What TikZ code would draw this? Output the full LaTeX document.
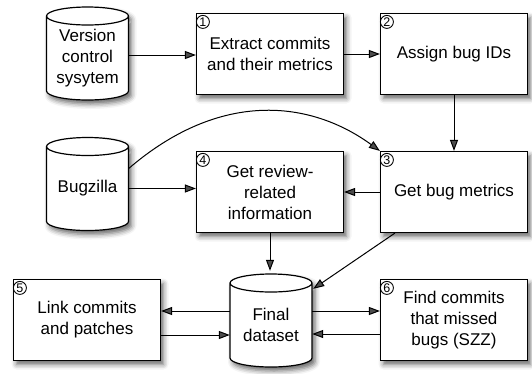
\documentclass[tikz,border=0pt]{standalone}
\usepackage{fontspec}
\setmainfont{Liberation Sans}
\usetikzlibrary{shadows.blur,arrows.meta,calc}
\tikzset{
  myshadow/.style={blur shadow={shadow xshift=3pt, shadow yshift=-4pt, shadow blur radius=5pt, shadow opacity=60}},
  stepbox/.style={draw, line width=1.2pt, fill=white, minimum width=147pt, minimum height=81pt,
    align=center, inner sep=0pt, font=\fontsize{17}{21}\selectfont, myshadow},
  cylbody/.style={minimum width=82pt, minimum height=84pt, inner sep=0pt, align=center,
    font=\fontsize{17}{21}\selectfont},
  cylline/.style={draw, line width=1.2pt, fill=white, myshadow},
  numc/.style={circle, draw, line width=0.9pt, inner sep=0pt, minimum size=13pt,
    font=\fontsize{12.5}{12.5}\selectfont},
  arr/.style={line width=1pt, -{Triangle[length=11pt,width=8pt]}},
}
\newcommand\mycyl[4]{%
  \draw[cylline] (#2-41,#3-37.5) -- (#2-41,#3+37.5)
    arc[start angle=180,end angle=360,x radius=41pt,y radius=9pt]
    -- (#2+41,#3-37.5)
    arc[start angle=0,end angle=180,x radius=41pt,y radius=9pt]
    arc[start angle=180,end angle=360,x radius=41pt,y radius=9pt];
  \node[cylbody] (#1) at (#2,#3+4.5) {#4};
}
\begin{document}
\begin{tikzpicture}[x=1pt,y=-1pt]
\useasboundingbox (0,0) rectangle (532,373);
% cylinders
\mycyl{vcs}{87.5}{53.5}{Version\\control\\sysytem}
\mycyl{bug}{87.5}{184}{Bugzilla}
\mycyl{fin}{271}{320.5}{Final\\dataset}
% boxes
\node[stepbox] (b1) at (270,54) {Extract commits\\and their metrics};
\node[stepbox] (b2) at (454,54) {Assign bug IDs};
\node[stepbox] (b3) at (454,192) {Get bug metrics};
\node[stepbox] (b4) at (270,192) {Get review-\\related\\information};
\node[stepbox] (b5) at (87,320) {Link commits\\and patches};
\node[stepbox] (b6) at (454,320) {Find commits\\that missed\\bugs (SZZ)};
% numbers
\node[numc] (n1) at ($(b1.north west)+(7,9)$) {1};
\node[numc] (n2) at ($(b2.north west)+(7,9)$) {2};
\node[numc] (n3) at ($(b3.north west)+(7,9)$) {3};
\node[numc] (n4) at ($(b4.north west)+(7,9)$) {4};
\node[numc] (n5) at ($(b5.north west)+(7,9)$) {5};
\node[numc] (n6) at ($(b6.north west)+(7,9)$) {6};
% helper coordinates
\coordinate (v1) at ($(vcs.east)+(0,-3)$);
\coordinate (g1) at ($(bug.east)+(0,-20)$);
\coordinate (ftop) at ($(fin.north)+(0,-12)$);
\coordinate (s3) at ($(b3.south west)+(15,0)$);
\coordinate (fne) at ($(fin.north east)+(1,6)$);
\coordinate (fw1) at ($(fin.west)+(0,-14)$);
\coordinate (fw2) at ($(fin.west)+(0,10)$);
\coordinate (fe1) at ($(fin.east)+(0,-14)$);
\coordinate (fe2) at ($(fin.east)+(0,9)$);
% connectors
\draw[arr] (v1) -- (v1 -| b1.west);
\draw[arr] (b1.east) -- (b2.west);
\draw[arr] (b2.south) -- (b3.north);
\draw[arr] (bug.east) -- (bug.east -| b4.west);
\draw[arr] (b3.west) -- (b4.east);
\draw[arr] (g1) .. controls (220,90) and (310,100) .. (b3.north west);
\draw[arr] (b4.south) -- (b4.south |- ftop);
\draw[arr] (s3) -- (fne);
\draw[arr] (fw1) -- (fw1 -| b5.east);
\draw[arr] (fw2 -| b5.east) -- (fw2);
\draw[arr] (fe1) -- (fe1 -| b6.west);
\draw[arr] (fe2 -| b6.west) -- (fe2);
\end{tikzpicture}
\end{document}
